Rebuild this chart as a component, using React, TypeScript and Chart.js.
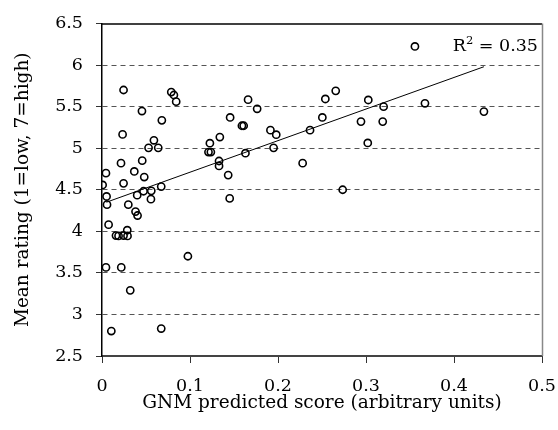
import React, { useEffect, useRef } from "react";
import { Chart, registerables } from "chart.js";

Chart.register(...registerables);

// GNM predicted score (x) and mean rating (y) for each item
const gnmScore = [
  0.0245, 0.0787, 0.0817, 0.0843, 0.0454, 0.068, 0.0234, 0.059, 0.0529, 0.0639,
  0.0216, 0.0457, 0.0045, 0.0367, 0.048, 0.0245, 0.0007, 0.0673, 0.056, 0.0472,
  0.0052, 0.04, 0.0556, 0.0057, 0.0299, 0.0381, 0.0404, 0.0075, 0.0287, 0.0159,
  0.0188, 0.0245, 0.029, 0.0976, 0.0045, 0.0219, 0.0321, 0.0106, 0.0673,
  0.166, 0.1763, 0.1456, 0.159, 0.161, 0.1339, 0.1914, 0.198, 0.1226, 0.121,
  0.1237, 0.195, 0.163, 0.133, 0.133, 0.1434, 0.228, 0.1451,
  0.3556, 0.2656, 0.2538, 0.3026, 0.367, 0.2504, 0.32, 0.2943, 0.319, 0.302,
  0.2364, 0.2735, 0.434,
];
const meanRating = [
  5.7, 5.675, 5.64, 5.56, 5.447, 5.335, 5.166, 5.095, 5.004, 5.004,
  4.82, 4.85, 4.7, 4.72, 4.653, 4.577, 4.558, 4.538, 4.487, 4.482,
  4.419, 4.435, 4.387, 4.321, 4.321, 4.238, 4.19, 4.08, 4.013, 3.949,
  3.945, 3.949, 3.945, 3.7, 3.566, 3.566, 3.29, 2.8, 2.83,
  5.584, 5.474, 5.37, 5.27, 5.27, 5.134, 5.217, 5.162, 5.06, 4.953,
  4.953, 5.004, 4.94, 4.846, 4.787, 4.676, 4.82, 4.396,
  6.224, 5.69, 5.592, 5.58, 5.54, 5.37, 5.5, 5.32, 5.32, 5.063,
  5.217, 4.5, 5.44,
];

// Linear trend line end points
const trendX = [0.005, 0.434];
const trendY = [4.35, 5.98];

const xTicks = [0, 0.1, 0.2, 0.3, 0.4, 0.5];
const yTicks = [2.5, 3, 3.5, 4, 4.5, 5, 5.5, 6, 6.5];

const xTitle = "GNM predicted score (arbitrary units)";
const yTitle = "Mean rating (1=low, 7=high)";
const rSquared = "0.35";

const FAMILY = "'DejaVu Serif', serif";

export default function App() {
  const ref = useRef<HTMLCanvasElement | null>(null);

  useEffect(() => {
    document.body.style.margin = "0";
    const canvas = ref.current;
    if (!canvas) return;

    const framePlugin = {
      id: "frameAndLabel",
      afterDraw(chart: any) {
        const { ctx, chartArea } = chart;
        ctx.save();
        // top border
        ctx.strokeStyle = "#000";
        ctx.lineWidth = 1.5;
        ctx.beginPath();
        ctx.moveTo(chartArea.left, chartArea.top + 0.5);
        ctx.lineTo(chartArea.right, chartArea.top + 0.5);
        ctx.stroke();
        // right border
        ctx.strokeStyle = "#888";
        ctx.lineWidth = 1.5;
        ctx.beginPath();
        ctx.moveTo(chartArea.right + 0.5, chartArea.top);
        ctx.lineTo(chartArea.right + 0.5, chartArea.bottom);
        ctx.stroke();

        // R^2 label
        const rightEdge = chartArea.right - 4;
        const baseline = 51;
        ctx.fillStyle = "#000";
        ctx.textBaseline = "alphabetic";
        ctx.textAlign = "left";
        const mainFont = `17.5px ${FAMILY}`;
        const supFont = `11.5px ${FAMILY}`;
        const rest = " = " + rSquared;
        ctx.font = mainFont;
        const wR = ctx.measureText("R").width;
        const wRest = ctx.measureText(rest).width;
        ctx.font = supFont;
        const wSup = ctx.measureText("2").width;
        let x = rightEdge - (wR + wSup + wRest);
        ctx.font = mainFont;
        ctx.fillText("R", x, baseline);
        x += wR;
        ctx.font = supFont;
        ctx.fillText("2", x, baseline - 7);
        x += wSup;
        ctx.font = mainFont;
        ctx.fillText(rest, x, baseline);
        ctx.restore();
      },
    };

    const chart = new Chart(canvas, {
      type: "scatter",
      data: {
        datasets: [
          {
            label: "ratings",
            data: gnmScore.map((x, i) => ({ x, y: meanRating[i] })),
            pointRadius: 3.6,
            pointHoverRadius: 3.6,
            pointBorderWidth: 1.6,
            pointBorderColor: "#000",
            pointBackgroundColor: "rgba(0,0,0,0)",
            showLine: false,
            order: 1,
          },
          {
            label: "trend",
            data: trendX.map((x, i) => ({ x, y: trendY[i] })),
            showLine: true,
            borderColor: "#000",
            borderWidth: 1,
            pointRadius: 0,
            fill: false,
            order: 2,
          },
        ],
      },
      options: {
        responsive: false,
        animation: false,
        events: [],
        layout: { padding: { top: 18, right: 16, left: 0, bottom: 0 } },
        plugins: {
          legend: { display: false },
          tooltip: { enabled: false },
          title: { display: false },
        },
        scales: {
          x: {
            type: "linear",
            min: 0,
            max: 0.5,
            afterBuildTicks: (scale: any) => {
              scale.ticks = xTicks.map((v) => ({ value: v }));
            },
            afterFit: (scale: any) => {
              scale.height = 74;
            },
            ticks: {
              font: { family: FAMILY, size: 17.5, lineHeight: 2.68 },
              color: "#000",
              padding: 0,
              maxRotation: 0,
              callback: (v: any) => String(Number(v)),
            },
            grid: {
              drawOnChartArea: false,
              drawTicks: true,
              tickLength: 7,
              tickColor: "#333",
              tickWidth: 1,
            },
            border: { display: true, color: "#444", width: 2 },
            title: {
              display: true,
              text: xTitle,
              font: { family: FAMILY, size: 18.5 },
              color: "#000",
              padding: { top: 4, bottom: 16 },
            },
          },
          y: {
            type: "linear",
            min: 2.5,
            max: 6.5,
            afterBuildTicks: (scale: any) => {
              scale.ticks = yTicks.map((v) => ({ value: v }));
            },
            afterFit: (scale: any) => {
              scale.width = 102;
            },
            ticks: {
              font: { family: FAMILY, size: 17.5 },
              color: "#000",
              padding: 13,
              callback: (v: any) => String(Number(v)),
            },
            grid: {
              drawOnChartArea: true,
              drawTicks: true,
              tickLength: 6,
              tickColor: "#333",
              tickBorderDash: [],
              lineWidth: 1,
              color: (ctx: any) =>
                ctx.tick && (ctx.tick.value === 2.5 || ctx.tick.value === 6.5)
                  ? "rgba(0,0,0,0)"
                  : "#555",
            },
            border: { display: true, color: "#000", width: 1.5, dash: [5, 4] },
            title: {
              display: true,
              text: yTitle,
              font: { family: FAMILY, size: 18.5 },
              color: "#000",
              padding: { top: 12, bottom: 4 },
            },
          },
        },
      },
      plugins: [framePlugin],
    } as any);

    return () => chart.destroy();
  }, []);

  return (
    <div style={{ position: "absolute", left: 0, top: 0, width: 558, height: 430, background: "#fff" }}>
      <canvas ref={ref} width={558} height={430} style={{ display: "block", width: 558, height: 430 }} />
    </div>
  );
}
